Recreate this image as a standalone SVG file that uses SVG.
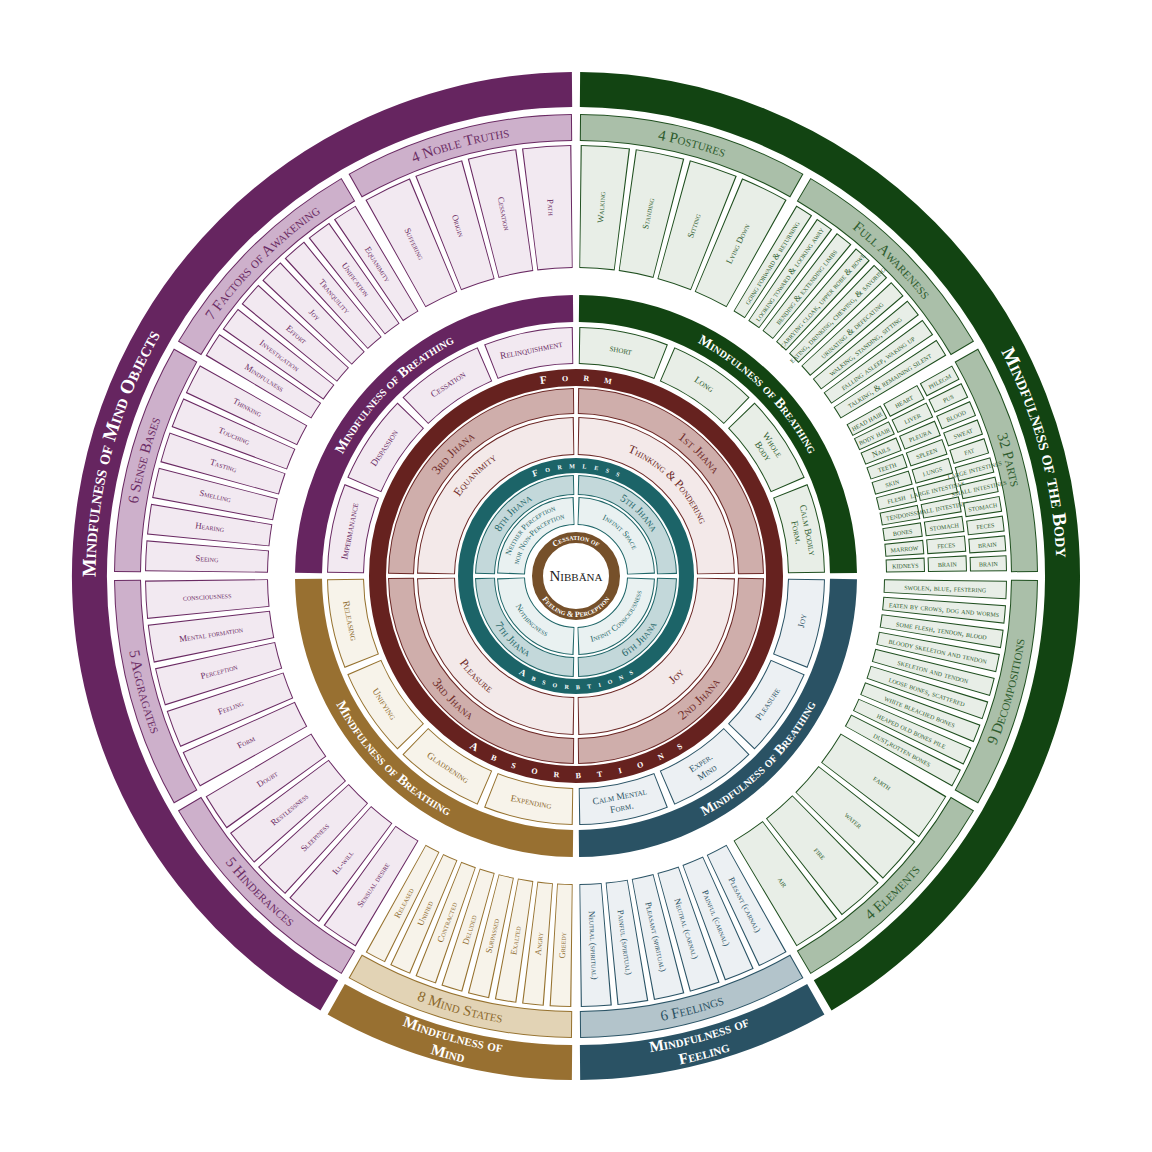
<svg xmlns="http://www.w3.org/2000/svg" width="1152" height="1152" viewBox="0 0 1152 1152">
<defs>
<style>
text{font-family:"Liberation Serif","DejaVu Serif",serif;font-variant:small-caps;text-anchor:middle}
.pD{stroke:#662560}.pB{stroke:#6a2a63}.pF{stroke:#f2e9f1}.pC{stroke:#cdb0cb}.pT{fill:#6b2c64}
.gD{stroke:#124412}.gB{stroke:#1f4f1f}.gF{stroke:#e8eee7}.gC{stroke:#aabfa9}.gT{fill:#2f5d2f}
.tD{stroke:#2a5264}.tB{stroke:#2b5466}.tF{stroke:#ecf0f3}.tC{stroke:#b3c4cb}.tT{fill:#2b5264}
.bD{stroke:#987031}.bB{stroke:#96722f}.bF{stroke:#f7f3ea}.bC{stroke:#e2d3b5}.bT{fill:#8d6a2d}
.rB{stroke:#6b2725}.rD{stroke:#cfaeab}.rL{stroke:#f3e9e9}.rT{fill:#6e2a28}
.kB{stroke:#1f6668}.kD{stroke:#c3d8da}.kL{stroke:#e9f1f1}.kT{fill:#1f6668}
.i{font-size:8.8px;dominant-baseline:central}
.s{font-size:8.9px;dominant-baseline:central}
.x{font-size:8px;dominant-baseline:central}
.bi{font-size:9.5px;dominant-baseline:central}
.ct{font-size:15px}
.ot{font-size:19.5px;font-weight:bold;fill:#fff}
.ot2{font-size:15.5px;font-weight:bold;fill:#fff}
.bt{font-size:14px;font-weight:bold;fill:#fff}
.jt{font-size:13px}
.lt{font-size:12px}
.kt{font-size:11px}
.qt{font-size:8.5px}
.ft{font-size:11px;font-weight:bold;fill:#fff;letter-spacing:15px}
.fa{font-size:11px;font-weight:bold;fill:#fff;letter-spacing:16.5px}
.fl{font-size:9px;font-weight:bold;fill:#fff;letter-spacing:7.5px}
.cc{font-size:8px;font-weight:bold;fill:#fff}
</style>
<circle id="o" r="486.5" stroke-width="35" pathLength="360" fill="none"/>
<circle id="c2" r="448.5" stroke-width="27" pathLength="360" fill="none"/>
<circle id="c2f" r="448.5" stroke-width="25" pathLength="360" fill="none"/>
<circle id="c3" r="369.5" stroke-width="123" pathLength="360" fill="none"/>
<circle id="c3f" r="369.5" stroke-width="121" pathLength="360" fill="none"/>
<circle id="p1" r="329.5" stroke-width="39" pathLength="360" fill="none"/>
<circle id="p1f" r="329.5" stroke-width="37" pathLength="360" fill="none"/>
<circle id="p2" r="371.5" stroke-width="39" pathLength="360" fill="none"/>
<circle id="p2f" r="371.5" stroke-width="37" pathLength="360" fill="none"/>
<circle id="p3" r="412.5" stroke-width="37" pathLength="360" fill="none"/>
<circle id="p3f" r="412.5" stroke-width="35" pathLength="360" fill="none"/>
<circle id="bb" r="267.5" stroke-width="27" pathLength="360" fill="none"/>
<circle id="bi" r="230.5" stroke-width="37" pathLength="360" fill="none"/>
<circle id="bif" r="230.5" stroke-width="35" pathLength="360" fill="none"/>
<circle id="j1" r="175" stroke-width="26" pathLength="360" fill="none"/>
<circle id="j1f" r="175" stroke-width="24" pathLength="360" fill="none"/>
<circle id="j2" r="140" stroke-width="38" pathLength="360" fill="none"/>
<circle id="j2f" r="140" stroke-width="36" pathLength="360" fill="none"/>
<circle id="k1" r="91" stroke-width="20" pathLength="360" fill="none"/>
<circle id="k1f" r="91" stroke-width="18" pathLength="360" fill="none"/>
<circle id="k2" r="65" stroke-width="28" pathLength="360" fill="none"/>
<circle id="k2f" r="65" stroke-width="26" pathLength="360" fill="none"/>
<path id="cwO" d="M0,480.5A480.5,480.5 0 0 1 0,-480.5A480.5,480.5 0 0 1 0,480.5"/>
<path id="ccwO1" d="M0,-482A482,482 0 0 0 0,482A482,482 0 0 0 0,-482"/>
<path id="ccwO2" d="M0,-499.5A499.5,499.5 0 0 0 0,499.5A499.5,499.5 0 0 0 0,-499.5"/>
<path id="cw2" d="M0,444A444,444 0 0 1 0,-444A444,444 0 0 1 0,444"/>
<path id="ccw2" d="M0,-453A453,453 0 0 0 0,453A453,453 0 0 0 0,-453"/>
<path id="cwB" d="M0,263A263,263 0 0 1 0,-263A263,263 0 0 1 0,263"/>
<path id="ccwB" d="M0,-272A272,272 0 0 0 0,272A272,272 0 0 0 0,-272"/>
<path id="cwF" d="M0,195A195,195 0 0 1 0,-195A195,195 0 0 1 0,195"/>
<path id="ccwF" d="M0,-202A202,202 0 0 0 0,202A202,202 0 0 0 0,-202"/>
<path id="cwJ1" d="M0,171A171,171 0 0 1 0,-171A171,171 0 0 1 0,171"/>
<path id="ccwJ1" d="M0,-179A179,179 0 0 0 0,179A179,179 0 0 0 0,-179"/>
<path id="cwJ2" d="M0,134.5A134.5,134.5 0 0 1 0,-134.5A134.5,134.5 0 0 1 0,134.5"/>
<path id="cwJ2b" d="M0,141A141,141 0 0 1 0,-141A141,141 0 0 1 0,141"/>
<path id="ccwJ2" d="M0,-145.5A145.5,145.5 0 0 0 0,145.5A145.5,145.5 0 0 0 0,-145.5"/>
<path id="cwT" d="M0,107.8A107.8,107.8 0 0 1 0,-107.8A107.8,107.8 0 0 1 0,107.8"/>
<path id="ccwT" d="M0,-113.2A113.2,113.2 0 0 0 0,113.2A113.2,113.2 0 0 0 0,-113.2"/>
<path id="cwK1" d="M0,87.7A87.7,87.7 0 0 1 0,-87.7A87.7,87.7 0 0 1 0,87.7"/>
<path id="ccwK1" d="M0,-94.3A94.3,94.3 0 0 0 0,94.3A94.3,94.3 0 0 0 0,-94.3"/>
<path id="cwK2" d="M0,62.5A62.5,62.5 0 0 1 0,-62.5A62.5,62.5 0 0 1 0,62.5"/>
<path id="ccwK2" d="M0,-67.5A67.5,67.5 0 0 0 0,67.5A67.5,67.5 0 0 0 0,-67.5"/>
<path id="cwK2a" d="M0,68.6A68.6,68.6 0 0 1 0,-68.6A68.6,68.6 0 0 1 0,68.6"/>
<path id="cwK2b" d="M0,58.6A58.6,58.6 0 0 1 0,-58.6A58.6,58.6 0 0 1 0,58.6"/>
<path id="cwC" d="M0,36A36,36 0 0 1 0,-36A36,36 0 0 1 0,36"/>
<path id="ccwC" d="M0,-41A41,41 0 0 0 0,41A41,41 0 0 0 0,-41"/>
</defs>
<rect width="1152" height="1152" fill="#fff"/>
<g transform="translate(576 576)">

<!-- OUTER RING -->
<g id="mindfulness-of-the-body"><use href="#o" class="gD" stroke-dasharray="149.06 360" transform="rotate(-89.53)"/><text class="ot"><textPath href="#cwO" startOffset="70.83%">Mindfulness of the Body</textPath></text></g>
<g id="mindfulness-of-feeling"><use href="#o" class="tD" stroke-dasharray="29.06 360" transform="rotate(60.47)"/><text class="ot2"><textPath href="#ccwO1" startOffset="54.17%">Mindfulness of</textPath></text><text class="ot2"><textPath href="#ccwO2" startOffset="54.17%">Feeling</textPath></text></g>
<g id="mindfulness-of-mind"><use href="#o" class="bD" stroke-dasharray="29.06 360" transform="rotate(90.47)"/><text class="ot2"><textPath href="#ccwO1" startOffset="45.83%">Mindfulness of</textPath></text><text class="ot2"><textPath href="#ccwO2" startOffset="45.83%">Mind</textPath></text></g>
<g id="mindfulness-of-mind-objects"><use href="#o" class="pD" stroke-dasharray="149.06 360" transform="rotate(120.47)"/><text class="ot"><textPath href="#cwO" startOffset="29.17%">Mindfulness of Mind Objects</textPath></text></g>

<!-- 4 POSTURES -->
<g id="four-postures"><use href="#c2" class="gB" stroke-dasharray="29 360" transform="rotate(-89.5)"/><use href="#c2f" class="gC" stroke-dasharray="28.74 360" transform="rotate(-89.37)"/><text class="ct gT"><textPath href="#cw2" startOffset="54.17%">4 Postures</textPath></text></g>
<g id="walking"><use href="#c3" class="gB" stroke-dasharray="6.6 360" transform="rotate(-89.38)"/><use href="#c3f" class="gF" stroke-dasharray="6.29 360" transform="rotate(-89.23)"/><text class="i gT" transform="rotate(3.92) translate(0,-369.5) rotate(-90)">Walking</text></g>
<g id="standing"><use href="#c3" class="gB" stroke-dasharray="6.6 360" transform="rotate(-82.03)"/><use href="#c3f" class="gF" stroke-dasharray="6.29 360" transform="rotate(-81.88)"/><text class="i gT" transform="rotate(11.27) translate(0,-369.5) rotate(-90)">Standing</text></g>
<g id="sitting"><use href="#c3" class="gB" stroke-dasharray="6.6 360" transform="rotate(-74.68)"/><use href="#c3f" class="gF" stroke-dasharray="6.29 360" transform="rotate(-74.53)"/><text class="i gT" transform="rotate(18.62) translate(0,-369.5) rotate(-90)">Sitting</text></g>
<g id="lying-down"><use href="#c3" class="gB" stroke-dasharray="6.6 360" transform="rotate(-67.33)"/><use href="#c3f" class="gF" stroke-dasharray="6.29 360" transform="rotate(-67.18)"/><text class="i gT" transform="rotate(25.97) translate(0,-369.5) rotate(-90)">Lying Down</text></g>

<!-- FULL AWARENESS -->
<g id="full-awareness"><use href="#c2" class="gB" stroke-dasharray="29 360" transform="rotate(-59.5)"/><use href="#c2f" class="gC" stroke-dasharray="28.74 360" transform="rotate(-59.37)"/><text class="ct gT"><textPath href="#cw2" startOffset="62.5%">Full Awareness</textPath></text></g>
<g id="fa-1"><use href="#c3" class="gB" stroke-dasharray="2.5 360" transform="rotate(-59.25)"/><use href="#c3f" class="gF" stroke-dasharray="2.19 360" transform="rotate(-59.1)"/><text class="s gT" transform="rotate(32) translate(0,-369.5) rotate(-90)">going forward &amp; returning</text></g>
<g id="fa-2"><use href="#c3" class="gB" stroke-dasharray="2.5 360" transform="rotate(-56)"/><use href="#c3f" class="gF" stroke-dasharray="2.19 360" transform="rotate(-55.85)"/><text class="s gT" transform="rotate(35.25) translate(0,-369.5) rotate(-90)">looking toward &amp; looking away</text></g>
<g id="fa-3"><use href="#c3" class="gB" stroke-dasharray="2.5 360" transform="rotate(-52.75)"/><use href="#c3f" class="gF" stroke-dasharray="2.19 360" transform="rotate(-52.6)"/><text class="s gT" transform="rotate(38.5) translate(0,-369.5) rotate(-90)">bending &amp; extending limbs</text></g>
<g id="fa-4"><use href="#c3" class="gB" stroke-dasharray="2.5 360" transform="rotate(-49.5)"/><use href="#c3f" class="gF" stroke-dasharray="2.19 360" transform="rotate(-49.35)"/><text class="s gT" transform="rotate(41.75) translate(0,-369.5) rotate(-90)">carrying cloak, upper robe &amp; bowl</text></g>
<g id="fa-5"><use href="#c3" class="gB" stroke-dasharray="2.5 360" transform="rotate(-46.25)"/><use href="#c3f" class="gF" stroke-dasharray="2.19 360" transform="rotate(-46.1)"/><text class="s gT" transform="rotate(45) translate(0,-369.5) rotate(-90)">eating, drinking, chewing, &amp; savoring</text></g>
<g id="fa-6"><use href="#c3" class="gB" stroke-dasharray="2.5 360" transform="rotate(-43)"/><use href="#c3f" class="gF" stroke-dasharray="2.19 360" transform="rotate(-42.85)"/><text class="s gT" transform="rotate(48.25) translate(0,-369.5) rotate(-90)">urinating &amp; defecating</text></g>
<g id="fa-7"><use href="#c3" class="gB" stroke-dasharray="2.5 360" transform="rotate(-39.75)"/><use href="#c3f" class="gF" stroke-dasharray="2.19 360" transform="rotate(-39.6)"/><text class="s gT" transform="rotate(51.5) translate(0,-369.5) rotate(-90)">walking, standing, sitting</text></g>
<g id="fa-8"><use href="#c3" class="gB" stroke-dasharray="2.5 360" transform="rotate(-36.5)"/><use href="#c3f" class="gF" stroke-dasharray="2.19 360" transform="rotate(-36.35)"/><text class="s gT" transform="rotate(54.75) translate(0,-369.5) rotate(-90)">falling asleep, waking up</text></g>
<g id="fa-9"><use href="#c3" class="gB" stroke-dasharray="2.5 360" transform="rotate(-33.25)"/><use href="#c3f" class="gF" stroke-dasharray="2.19 360" transform="rotate(-33.1)"/><text class="s gT" transform="rotate(58) translate(0,-369.5) rotate(-90)">talking, &amp; remaining silent</text></g>

<!-- 32 PARTS -->
<g id="thirty-two-parts"><use href="#c2" class="gB" stroke-dasharray="29 360" transform="rotate(-29.5)"/><use href="#c2f" class="gC" stroke-dasharray="28.74 360" transform="rotate(-29.37)"/><text class="ct gT"><textPath href="#cw2" startOffset="70.83%">32 Parts</textPath></text></g>
<g id="head-hair"><use href="#p1" class="gB" stroke-dasharray="2.41 360" transform="rotate(-29.25)"/><use href="#p1f" class="gF" stroke-dasharray="2.07 360" transform="rotate(-29.08)"/><text class="x gT" transform="rotate(61.96) translate(0,-329.5) rotate(-90)">head hair</text></g>
<g id="body-hair"><use href="#p1" class="gB" stroke-dasharray="2.41 360" transform="rotate(-26.34)"/><use href="#p1f" class="gF" stroke-dasharray="2.07 360" transform="rotate(-26.17)"/><text class="x gT" transform="rotate(64.87) translate(0,-329.5) rotate(-90)">body hair</text></g>
<g id="nails"><use href="#p1" class="gB" stroke-dasharray="2.41 360" transform="rotate(-23.42)"/><use href="#p1f" class="gF" stroke-dasharray="2.07 360" transform="rotate(-23.25)"/><text class="x gT" transform="rotate(67.79) translate(0,-329.5) rotate(-90)">Nails</text></g>
<g id="teeth"><use href="#p1" class="gB" stroke-dasharray="2.41 360" transform="rotate(-20.51)"/><use href="#p1f" class="gF" stroke-dasharray="2.07 360" transform="rotate(-20.34)"/><text class="x gT" transform="rotate(70.7) translate(0,-329.5) rotate(-90)">teeth</text></g>
<g id="skin"><use href="#p1" class="gB" stroke-dasharray="2.41 360" transform="rotate(-17.6)"/><use href="#p1f" class="gF" stroke-dasharray="2.07 360" transform="rotate(-17.43)"/><text class="x gT" transform="rotate(73.61) translate(0,-329.5) rotate(-90)">skin</text></g>
<g id="flesh"><use href="#p1" class="gB" stroke-dasharray="2.41 360" transform="rotate(-14.68)"/><use href="#p1f" class="gF" stroke-dasharray="2.07 360" transform="rotate(-14.51)"/><text class="x gT" transform="rotate(76.53) translate(0,-329.5) rotate(-90)">flesh</text></g>
<g id="tendons"><use href="#p1" class="gB" stroke-dasharray="2.41 360" transform="rotate(-11.77)"/><use href="#p1f" class="gF" stroke-dasharray="2.07 360" transform="rotate(-11.6)"/><text class="x gT" transform="rotate(79.44) translate(0,-329.5) rotate(-90)">tendons</text></g>
<g id="bones"><use href="#p1" class="gB" stroke-dasharray="2.41 360" transform="rotate(-8.86)"/><use href="#p1f" class="gF" stroke-dasharray="2.07 360" transform="rotate(-8.69)"/><text class="x gT" transform="rotate(82.35) translate(0,-329.5) rotate(-90)">bones</text></g>
<g id="marrow"><use href="#p1" class="gB" stroke-dasharray="2.41 360" transform="rotate(-5.95)"/><use href="#p1f" class="gF" stroke-dasharray="2.07 360" transform="rotate(-5.78)"/><text class="x gT" transform="rotate(85.26) translate(0,-329.5) rotate(-90)">marrow</text></g>
<g id="kidneys"><use href="#p1" class="gB" stroke-dasharray="2.41 360" transform="rotate(-3.03)"/><use href="#p1f" class="gF" stroke-dasharray="2.07 360" transform="rotate(-2.86)"/><text class="x gT" transform="rotate(88.18) translate(0,-329.5) rotate(-90)">kidneys</text></g>
<g id="heart"><use href="#p2" class="gB" stroke-dasharray="2.41 360" transform="rotate(-29.25)"/><use href="#p2f" class="gF" stroke-dasharray="2.1 360" transform="rotate(-29.1)"/><text class="x gT" transform="rotate(61.96) translate(0,-371.5) rotate(-90)">heart</text></g>
<g id="liver"><use href="#p2" class="gB" stroke-dasharray="2.41 360" transform="rotate(-26.34)"/><use href="#p2f" class="gF" stroke-dasharray="2.1 360" transform="rotate(-26.19)"/><text class="x gT" transform="rotate(64.87) translate(0,-371.5) rotate(-90)">liver</text></g>
<g id="pleura"><use href="#p2" class="gB" stroke-dasharray="2.41 360" transform="rotate(-23.42)"/><use href="#p2f" class="gF" stroke-dasharray="2.1 360" transform="rotate(-23.27)"/><text class="x gT" transform="rotate(67.79) translate(0,-371.5) rotate(-90)">pleura</text></g>
<g id="spleen"><use href="#p2" class="gB" stroke-dasharray="2.41 360" transform="rotate(-20.51)"/><use href="#p2f" class="gF" stroke-dasharray="2.1 360" transform="rotate(-20.36)"/><text class="x gT" transform="rotate(70.7) translate(0,-371.5) rotate(-90)">spleen</text></g>
<g id="lungs"><use href="#p2" class="gB" stroke-dasharray="2.41 360" transform="rotate(-17.6)"/><use href="#p2f" class="gF" stroke-dasharray="2.1 360" transform="rotate(-17.45)"/><text class="x gT" transform="rotate(73.61) translate(0,-371.5) rotate(-90)">lungs</text></g>
<g id="large-intestines-1"><use href="#p2" class="gB" stroke-dasharray="2.41 360" transform="rotate(-14.68)"/><use href="#p2f" class="gF" stroke-dasharray="2.1 360" transform="rotate(-14.53)"/><text class="x gT" transform="rotate(76.53) translate(0,-371.5) rotate(-90)">large intestines</text></g>
<g id="small-intestines-1"><use href="#p2" class="gB" stroke-dasharray="2.41 360" transform="rotate(-11.77)"/><use href="#p2f" class="gF" stroke-dasharray="2.1 360" transform="rotate(-11.62)"/><text class="x gT" transform="rotate(79.44) translate(0,-371.5) rotate(-90)">small intestines</text></g>
<g id="stomach-1"><use href="#p2" class="gB" stroke-dasharray="2.41 360" transform="rotate(-8.86)"/><use href="#p2f" class="gF" stroke-dasharray="2.1 360" transform="rotate(-8.71)"/><text class="x gT" transform="rotate(82.35) translate(0,-371.5) rotate(-90)">stomach</text></g>
<g id="feces-1"><use href="#p2" class="gB" stroke-dasharray="2.41 360" transform="rotate(-5.95)"/><use href="#p2f" class="gF" stroke-dasharray="2.1 360" transform="rotate(-5.8)"/><text class="x gT" transform="rotate(85.26) translate(0,-371.5) rotate(-90)">feces</text></g>
<g id="brain-1"><use href="#p2" class="gB" stroke-dasharray="2.41 360" transform="rotate(-3.03)"/><use href="#p2f" class="gF" stroke-dasharray="2.1 360" transform="rotate(-2.88)"/><text class="x gT" transform="rotate(88.18) translate(0,-371.5) rotate(-90)">brain</text></g>
<g id="phlegm"><use href="#p3" class="gB" stroke-dasharray="2.15 360" transform="rotate(-29.25)"/><use href="#p3f" class="gF" stroke-dasharray="1.87 360" transform="rotate(-29.11)"/><text class="x gT" transform="rotate(61.82) translate(0,-412.5) rotate(-90)">phlegm</text></g>
<g id="pus"><use href="#p3" class="gB" stroke-dasharray="2.15 360" transform="rotate(-26.6)"/><use href="#p3f" class="gF" stroke-dasharray="1.87 360" transform="rotate(-26.46)"/><text class="x gT" transform="rotate(64.47) translate(0,-412.5) rotate(-90)">pus</text></g>
<g id="blood"><use href="#p3" class="gB" stroke-dasharray="2.15 360" transform="rotate(-23.95)"/><use href="#p3f" class="gF" stroke-dasharray="1.87 360" transform="rotate(-23.81)"/><text class="x gT" transform="rotate(67.12) translate(0,-412.5) rotate(-90)">blood</text></g>
<g id="sweat"><use href="#p3" class="gB" stroke-dasharray="2.15 360" transform="rotate(-21.31)"/><use href="#p3f" class="gF" stroke-dasharray="1.87 360" transform="rotate(-21.17)"/><text class="x gT" transform="rotate(69.76) translate(0,-412.5) rotate(-90)">sweat</text></g>
<g id="fat"><use href="#p3" class="gB" stroke-dasharray="2.15 360" transform="rotate(-18.66)"/><use href="#p3f" class="gF" stroke-dasharray="1.87 360" transform="rotate(-18.52)"/><text class="x gT" transform="rotate(72.41) translate(0,-412.5) rotate(-90)">fat</text></g>
<g id="large-intestines-2"><use href="#p3" class="gB" stroke-dasharray="2.15 360" transform="rotate(-16.01)"/><use href="#p3f" class="gF" stroke-dasharray="1.87 360" transform="rotate(-15.87)"/><text class="x gT" transform="rotate(75.06) translate(0,-412.5) rotate(-90)">large intestines</text></g>
<g id="small-intestines-2"><use href="#p3" class="gB" stroke-dasharray="2.15 360" transform="rotate(-13.36)"/><use href="#p3f" class="gF" stroke-dasharray="1.87 360" transform="rotate(-13.22)"/><text class="x gT" transform="rotate(77.71) translate(0,-412.5) rotate(-90)">small intestines</text></g>
<g id="stomach-2"><use href="#p3" class="gB" stroke-dasharray="2.15 360" transform="rotate(-10.71)"/><use href="#p3f" class="gF" stroke-dasharray="1.87 360" transform="rotate(-10.57)"/><text class="x gT" transform="rotate(80.36) translate(0,-412.5) rotate(-90)">stomach</text></g>
<g id="feces-2"><use href="#p3" class="gB" stroke-dasharray="2.15 360" transform="rotate(-8.07)"/><use href="#p3f" class="gF" stroke-dasharray="1.87 360" transform="rotate(-7.93)"/><text class="x gT" transform="rotate(83) translate(0,-412.5) rotate(-90)">feces</text></g>
<g id="brain-2"><use href="#p3" class="gB" stroke-dasharray="2.15 360" transform="rotate(-5.42)"/><use href="#p3f" class="gF" stroke-dasharray="1.87 360" transform="rotate(-5.28)"/><text class="x gT" transform="rotate(85.65) translate(0,-412.5) rotate(-90)">brain</text></g>
<g id="brain-3"><use href="#p3" class="gB" stroke-dasharray="2.15 360" transform="rotate(-2.77)"/><use href="#p3f" class="gF" stroke-dasharray="1.87 360" transform="rotate(-2.63)"/><text class="x gT" transform="rotate(88.3) translate(0,-412.5) rotate(-90)">brain</text></g>

<!-- 9 DECOMPOSITIONS -->
<g id="nine-decompositions"><use href="#c2" class="gB" stroke-dasharray="29 360" transform="rotate(0.5)"/><use href="#c2f" class="gC" stroke-dasharray="28.74 360" transform="rotate(0.63)"/><text class="ct gT"><textPath href="#ccw2" startOffset="70.83%">9 Decompositions</textPath></text></g>
<g id="dc-1"><use href="#c3" class="gB" stroke-dasharray="2.51 360" transform="rotate(0.62)"/><use href="#c3f" class="gF" stroke-dasharray="2.2 360" transform="rotate(0.78)"/><text class="s gT" transform="rotate(91.88) translate(0,-369.5) rotate(-90)">swolen, blue, festering</text></g>
<g id="dc-2"><use href="#c3" class="gB" stroke-dasharray="2.51 360" transform="rotate(3.88)"/><use href="#c3f" class="gF" stroke-dasharray="2.2 360" transform="rotate(4.04)"/><text class="s gT" transform="rotate(95.14) translate(0,-369.5) rotate(-90)">eaten by crows, dog and worms</text></g>
<g id="dc-3"><use href="#c3" class="gB" stroke-dasharray="2.51 360" transform="rotate(7.15)"/><use href="#c3f" class="gF" stroke-dasharray="2.2 360" transform="rotate(7.31)"/><text class="s gT" transform="rotate(98.41) translate(0,-369.5) rotate(-90)">some flesh, tendon, blood</text></g>
<g id="dc-4"><use href="#c3" class="gB" stroke-dasharray="2.51 360" transform="rotate(10.41)"/><use href="#c3f" class="gF" stroke-dasharray="2.2 360" transform="rotate(10.57)"/><text class="s gT" transform="rotate(101.67) translate(0,-369.5) rotate(-90)">bloody skeleton and tendon</text></g>
<g id="dc-5"><use href="#c3" class="gB" stroke-dasharray="2.51 360" transform="rotate(13.68)"/><use href="#c3f" class="gF" stroke-dasharray="2.2 360" transform="rotate(13.84)"/><text class="s gT" transform="rotate(104.94) translate(0,-369.5) rotate(-90)">skeleton and tendon</text></g>
<g id="dc-6"><use href="#c3" class="gB" stroke-dasharray="2.51 360" transform="rotate(16.94)"/><use href="#c3f" class="gF" stroke-dasharray="2.2 360" transform="rotate(17.1)"/><text class="s gT" transform="rotate(108.2) translate(0,-369.5) rotate(-90)">loose bones, scattered</text></g>
<g id="dc-7"><use href="#c3" class="gB" stroke-dasharray="2.51 360" transform="rotate(20.2)"/><use href="#c3f" class="gF" stroke-dasharray="2.2 360" transform="rotate(20.36)"/><text class="s gT" transform="rotate(111.46) translate(0,-369.5) rotate(-90)">white bleached bones</text></g>
<g id="dc-8"><use href="#c3" class="gB" stroke-dasharray="2.51 360" transform="rotate(23.47)"/><use href="#c3f" class="gF" stroke-dasharray="2.2 360" transform="rotate(23.63)"/><text class="s gT" transform="rotate(114.73) translate(0,-369.5) rotate(-90)">heaped old bones pile</text></g>
<g id="dc-9"><use href="#c3" class="gB" stroke-dasharray="2.51 360" transform="rotate(26.73)"/><use href="#c3f" class="gF" stroke-dasharray="2.2 360" transform="rotate(26.89)"/><text class="s gT" transform="rotate(117.99) translate(0,-369.5) rotate(-90)">dust,rotten bones</text></g>

<!-- 4 ELEMENTS -->
<g id="four-elements"><use href="#c2" class="gB" stroke-dasharray="29 360" transform="rotate(30.5)"/><use href="#c2f" class="gC" stroke-dasharray="28.74 360" transform="rotate(30.63)"/><text class="ct gT"><textPath href="#ccw2" startOffset="62.5%">4 Elements</textPath></text></g>
<g id="earth"><use href="#c3" class="gB" stroke-dasharray="6.56 360" transform="rotate(30.75)"/><use href="#c3f" class="gF" stroke-dasharray="6.25 360" transform="rotate(30.91)"/><text class="i gT" transform="rotate(124.03) translate(0,-369.5) rotate(-90)">earth</text></g>
<g id="water"><use href="#c3" class="gB" stroke-dasharray="6.56 360" transform="rotate(38.06)"/><use href="#c3f" class="gF" stroke-dasharray="6.25 360" transform="rotate(38.22)"/><text class="i gT" transform="rotate(131.34) translate(0,-369.5) rotate(-90)">water</text></g>
<g id="fire"><use href="#c3" class="gB" stroke-dasharray="6.56 360" transform="rotate(45.38)"/><use href="#c3f" class="gF" stroke-dasharray="6.25 360" transform="rotate(45.54)"/><text class="i gT" transform="rotate(138.66) translate(0,-369.5) rotate(-90)">fire</text></g>
<g id="air"><use href="#c3" class="gB" stroke-dasharray="6.56 360" transform="rotate(52.69)"/><use href="#c3f" class="gF" stroke-dasharray="6.25 360" transform="rotate(52.85)"/><text class="i gT" transform="rotate(145.97) translate(0,-369.5) rotate(-90)">air</text></g>

<!-- 6 FEELINGS -->
<g id="six-feelings"><use href="#c2" class="tB" stroke-dasharray="29 360" transform="rotate(60.5)"/><use href="#c2f" class="tC" stroke-dasharray="28.74 360" transform="rotate(60.63)"/><text class="ct tT"><textPath href="#ccw2" startOffset="54.17%">6 Feelings</textPath></text></g>
<g id="plesant-carnal"><use href="#c3" class="tB" stroke-dasharray="4.15 360" transform="rotate(60.75)"/><use href="#c3f" class="tF" stroke-dasharray="3.84 360" transform="rotate(60.91)"/><text class="i tT" transform="rotate(152.82) translate(0,-369.5) rotate(-90)">Plesant (carnal)</text></g>
<g id="painful-carnal"><use href="#c3" class="tB" stroke-dasharray="4.15 360" transform="rotate(65.65)"/><use href="#c3f" class="tF" stroke-dasharray="3.84 360" transform="rotate(65.81)"/><text class="i tT" transform="rotate(157.72) translate(0,-369.5) rotate(-90)">Painful (carnal)</text></g>
<g id="neutral-carnal"><use href="#c3" class="tB" stroke-dasharray="4.15 360" transform="rotate(70.54)"/><use href="#c3f" class="tF" stroke-dasharray="3.84 360" transform="rotate(70.7)"/><text class="i tT" transform="rotate(162.61) translate(0,-369.5) rotate(-90)">Neutral (carnal)</text></g>
<g id="pleasant-spiritual"><use href="#c3" class="tB" stroke-dasharray="4.15 360" transform="rotate(75.44)"/><use href="#c3f" class="tF" stroke-dasharray="3.84 360" transform="rotate(75.6)"/><text class="i tT" transform="rotate(167.51) translate(0,-369.5) rotate(-90)">Pleasant (spiritual)</text></g>
<g id="painful-spiritual"><use href="#c3" class="tB" stroke-dasharray="4.15 360" transform="rotate(80.34)"/><use href="#c3f" class="tF" stroke-dasharray="3.84 360" transform="rotate(80.5)"/><text class="i tT" transform="rotate(172.41) translate(0,-369.5) rotate(-90)">Painful (spiritual)</text></g>
<g id="neutral-spiritual"><use href="#c3" class="tB" stroke-dasharray="4.15 360" transform="rotate(85.23)"/><use href="#c3f" class="tF" stroke-dasharray="3.84 360" transform="rotate(85.39)"/><text class="i tT" transform="rotate(177.3) translate(0,-369.5) rotate(-90)">Neutral (spiritual)</text></g>

<!-- 8 MIND STATES -->
<g id="eight-mind-states"><use href="#c2" class="bB" stroke-dasharray="29 360" transform="rotate(90.5)"/><use href="#c2f" class="bC" stroke-dasharray="28.74 360" transform="rotate(90.63)"/><text class="ct bT"><textPath href="#ccw2" startOffset="45.83%">8 Mind States</textPath></text></g>
<g id="greedy"><use href="#c3" class="bB" stroke-dasharray="2.92 360" transform="rotate(90.62)"/><use href="#c3f" class="bF" stroke-dasharray="2.61 360" transform="rotate(90.78)"/><text class="i bT" transform="rotate(182.08) translate(0,-369.5) rotate(90)">Greedy</text></g>
<g id="angry"><use href="#c3" class="bB" stroke-dasharray="2.92 360" transform="rotate(94.29)"/><use href="#c3f" class="bF" stroke-dasharray="2.61 360" transform="rotate(94.45)"/><text class="i bT" transform="rotate(185.75) translate(0,-369.5) rotate(90)">Angry</text></g>
<g id="exalted"><use href="#c3" class="bB" stroke-dasharray="2.92 360" transform="rotate(97.96)"/><use href="#c3f" class="bF" stroke-dasharray="2.61 360" transform="rotate(98.12)"/><text class="i bT" transform="rotate(189.42) translate(0,-369.5) rotate(90)">Exalted</text></g>
<g id="surpassed"><use href="#c3" class="bB" stroke-dasharray="2.92 360" transform="rotate(101.63)"/><use href="#c3f" class="bF" stroke-dasharray="2.61 360" transform="rotate(101.79)"/><text class="i bT" transform="rotate(193.09) translate(0,-369.5) rotate(90)">Surpassed</text></g>
<g id="deluded"><use href="#c3" class="bB" stroke-dasharray="2.92 360" transform="rotate(105.3)"/><use href="#c3f" class="bF" stroke-dasharray="2.61 360" transform="rotate(105.46)"/><text class="i bT" transform="rotate(196.76) translate(0,-369.5) rotate(90)">Deluded</text></g>
<g id="contracted"><use href="#c3" class="bB" stroke-dasharray="2.92 360" transform="rotate(108.97)"/><use href="#c3f" class="bF" stroke-dasharray="2.61 360" transform="rotate(109.13)"/><text class="i bT" transform="rotate(200.43) translate(0,-369.5) rotate(90)">Contracted</text></g>
<g id="unified"><use href="#c3" class="bB" stroke-dasharray="2.92 360" transform="rotate(112.64)"/><use href="#c3f" class="bF" stroke-dasharray="2.61 360" transform="rotate(112.8)"/><text class="i bT" transform="rotate(204.1) translate(0,-369.5) rotate(90)">Unified</text></g>
<g id="released"><use href="#c3" class="bB" stroke-dasharray="2.92 360" transform="rotate(116.31)"/><use href="#c3f" class="bF" stroke-dasharray="2.61 360" transform="rotate(116.47)"/><text class="i bT" transform="rotate(207.77) translate(0,-369.5) rotate(90)">Released</text></g>

<!-- 5 HINDERANCES -->
<g id="five-hinderances"><use href="#c2" class="pB" stroke-dasharray="29 360" transform="rotate(120.5)"/><use href="#c2f" class="pC" stroke-dasharray="28.74 360" transform="rotate(120.63)"/><text class="ct pT"><textPath href="#ccw2" startOffset="37.5%">5 Hinderances</textPath></text></g>
<g id="sensual-desire"><use href="#c3" class="pB" stroke-dasharray="5.1 360" transform="rotate(120.75)"/><use href="#c3f" class="pF" stroke-dasharray="4.79 360" transform="rotate(120.91)"/><text class="i pT" transform="rotate(213.3) translate(0,-369.5) rotate(90)">Sensual desire</text></g>
<g id="ill-will"><use href="#c3" class="pB" stroke-dasharray="5.1 360" transform="rotate(126.6)"/><use href="#c3f" class="pF" stroke-dasharray="4.79 360" transform="rotate(126.76)"/><text class="i pT" transform="rotate(219.15) translate(0,-369.5) rotate(90)">Ill-will</text></g>
<g id="sleepiness"><use href="#c3" class="pB" stroke-dasharray="5.1 360" transform="rotate(132.45)"/><use href="#c3f" class="pF" stroke-dasharray="4.79 360" transform="rotate(132.61)"/><text class="i pT" transform="rotate(225) translate(0,-369.5) rotate(90)">Sleepiness</text></g>
<g id="restlessness"><use href="#c3" class="pB" stroke-dasharray="5.1 360" transform="rotate(138.3)"/><use href="#c3f" class="pF" stroke-dasharray="4.79 360" transform="rotate(138.46)"/><text class="i pT" transform="rotate(230.85) translate(0,-369.5) rotate(90)">Restlessness</text></g>
<g id="doubt"><use href="#c3" class="pB" stroke-dasharray="5.1 360" transform="rotate(144.15)"/><use href="#c3f" class="pF" stroke-dasharray="4.79 360" transform="rotate(144.31)"/><text class="i pT" transform="rotate(236.7) translate(0,-369.5) rotate(90)">Doubt</text></g>

<!-- 5 AGGRAGATES -->
<g id="five-aggragates"><use href="#c2" class="pB" stroke-dasharray="29 360" transform="rotate(150.5)"/><use href="#c2f" class="pC" stroke-dasharray="28.74 360" transform="rotate(150.63)"/><text class="ct pT"><textPath href="#ccw2" startOffset="29.17%">5 Aggragates</textPath></text></g>
<g id="form"><use href="#c3" class="pB" stroke-dasharray="5.13 360" transform="rotate(150.75)"/><use href="#c3f" class="pF" stroke-dasharray="4.82 360" transform="rotate(150.91)"/><text class="i pT" transform="rotate(243.32) translate(0,-369.5) rotate(90)">Form</text></g>
<g id="feeling"><use href="#c3" class="pB" stroke-dasharray="5.13 360" transform="rotate(156.63)"/><use href="#c3f" class="pF" stroke-dasharray="4.82 360" transform="rotate(156.79)"/><text class="i pT" transform="rotate(249.2) translate(0,-369.5) rotate(90)">Feeling</text></g>
<g id="perception"><use href="#c3" class="pB" stroke-dasharray="5.13 360" transform="rotate(162.51)"/><use href="#c3f" class="pF" stroke-dasharray="4.82 360" transform="rotate(162.67)"/><text class="i pT" transform="rotate(255.08) translate(0,-369.5) rotate(90)">Perception</text></g>
<g id="mental-formation"><use href="#c3" class="pB" stroke-dasharray="5.13 360" transform="rotate(168.39)"/><use href="#c3f" class="pF" stroke-dasharray="4.82 360" transform="rotate(168.55)"/><text class="i pT" transform="rotate(260.96) translate(0,-369.5) rotate(90)">Mental formation</text></g>
<g id="consciousness"><use href="#c3" class="pB" stroke-dasharray="5.13 360" transform="rotate(174.27)"/><use href="#c3f" class="pF" stroke-dasharray="4.82 360" transform="rotate(174.43)"/><text class="i pT" transform="rotate(266.84) translate(0,-369.5) rotate(90)">consciousness</text></g>

<!-- 6 SENSE BASES -->
<g id="six-sense-bases"><use href="#c2" class="pB" stroke-dasharray="29 360" transform="rotate(180.5)"/><use href="#c2f" class="pC" stroke-dasharray="28.74 360" transform="rotate(180.63)"/><text class="ct pT"><textPath href="#cw2" startOffset="29.17%">6 Sense Bases</textPath></text></g>
<g id="seeing"><use href="#c3" class="pB" stroke-dasharray="4.15 360" transform="rotate(180.62)"/><use href="#c3f" class="pF" stroke-dasharray="3.84 360" transform="rotate(180.78)"/><text class="i pT" transform="rotate(272.7) translate(0,-369.5) rotate(90)">Seeing</text></g>
<g id="hearing"><use href="#c3" class="pB" stroke-dasharray="4.15 360" transform="rotate(185.52)"/><use href="#c3f" class="pF" stroke-dasharray="3.84 360" transform="rotate(185.68)"/><text class="i pT" transform="rotate(277.6) translate(0,-369.5) rotate(90)">Hearing</text></g>
<g id="smelling"><use href="#c3" class="pB" stroke-dasharray="4.15 360" transform="rotate(190.42)"/><use href="#c3f" class="pF" stroke-dasharray="3.84 360" transform="rotate(190.58)"/><text class="i pT" transform="rotate(282.5) translate(0,-369.5) rotate(90)">Smelling</text></g>
<g id="tasting"><use href="#c3" class="pB" stroke-dasharray="4.15 360" transform="rotate(195.32)"/><use href="#c3f" class="pF" stroke-dasharray="3.84 360" transform="rotate(195.48)"/><text class="i pT" transform="rotate(287.4) translate(0,-369.5) rotate(90)">Tasting</text></g>
<g id="touching"><use href="#c3" class="pB" stroke-dasharray="4.15 360" transform="rotate(200.22)"/><use href="#c3f" class="pF" stroke-dasharray="3.84 360" transform="rotate(200.38)"/><text class="i pT" transform="rotate(292.3) translate(0,-369.5) rotate(90)">Touching</text></g>
<g id="thinking"><use href="#c3" class="pB" stroke-dasharray="4.15 360" transform="rotate(205.12)"/><use href="#c3f" class="pF" stroke-dasharray="3.84 360" transform="rotate(205.28)"/><text class="i pT" transform="rotate(297.2) translate(0,-369.5) rotate(90)">Thinking</text></g>

<!-- 7 FACTORS OF AWAKENING -->
<g id="seven-factors"><use href="#c2" class="pB" stroke-dasharray="29 360" transform="rotate(210.5)"/><use href="#c2f" class="pC" stroke-dasharray="28.74 360" transform="rotate(210.63)"/><text class="ct pT"><textPath href="#cw2" startOffset="37.5%">7 Factors of Awakening</textPath></text></g>
<g id="mindfulness"><use href="#c3" class="pB" stroke-dasharray="3.43 360" transform="rotate(210.75)"/><use href="#c3f" class="pF" stroke-dasharray="3.12 360" transform="rotate(210.91)"/><text class="i pT" transform="rotate(302.47) translate(0,-369.5) rotate(90)">Mindfulness</text></g>
<g id="investigation"><use href="#c3" class="pB" stroke-dasharray="3.43 360" transform="rotate(214.93)"/><use href="#c3f" class="pF" stroke-dasharray="3.12 360" transform="rotate(215.09)"/><text class="i pT" transform="rotate(306.65) translate(0,-369.5) rotate(90)">Investigation</text></g>
<g id="effort"><use href="#c3" class="pB" stroke-dasharray="3.43 360" transform="rotate(219.11)"/><use href="#c3f" class="pF" stroke-dasharray="3.12 360" transform="rotate(219.27)"/><text class="i pT" transform="rotate(310.83) translate(0,-369.5) rotate(90)">Effort</text></g>
<g id="joy-factor"><use href="#c3" class="pB" stroke-dasharray="3.43 360" transform="rotate(223.29)"/><use href="#c3f" class="pF" stroke-dasharray="3.12 360" transform="rotate(223.45)"/><text class="i pT" transform="rotate(315.01) translate(0,-369.5) rotate(90)">Joy</text></g>
<g id="tranquility"><use href="#c3" class="pB" stroke-dasharray="3.43 360" transform="rotate(227.47)"/><use href="#c3f" class="pF" stroke-dasharray="3.12 360" transform="rotate(227.63)"/><text class="i pT" transform="rotate(319.19) translate(0,-369.5) rotate(90)">Tranquility</text></g>
<g id="unification"><use href="#c3" class="pB" stroke-dasharray="3.43 360" transform="rotate(231.65)"/><use href="#c3f" class="pF" stroke-dasharray="3.12 360" transform="rotate(231.81)"/><text class="i pT" transform="rotate(323.37) translate(0,-369.5) rotate(90)">Unification</text></g>
<g id="equanimity-factor"><use href="#c3" class="pB" stroke-dasharray="3.43 360" transform="rotate(235.83)"/><use href="#c3f" class="pF" stroke-dasharray="3.12 360" transform="rotate(235.99)"/><text class="i pT" transform="rotate(327.55) translate(0,-369.5) rotate(90)">Equanimity</text></g>

<!-- 4 NOBLE TRUTHS -->
<g id="four-noble-truths"><use href="#c2" class="pB" stroke-dasharray="29 360" transform="rotate(240.5)"/><use href="#c2f" class="pC" stroke-dasharray="28.74 360" transform="rotate(240.63)"/><text class="ct pT"><textPath href="#cw2" startOffset="45.83%">4 Noble Truths</textPath></text></g>
<g id="suffering"><use href="#c3" class="pB" stroke-dasharray="6.6 360" transform="rotate(240.75)"/><use href="#c3f" class="pF" stroke-dasharray="6.29 360" transform="rotate(240.9)"/><text class="i pT" transform="rotate(334.05) translate(0,-369.5) rotate(90)">Suffering</text></g>
<g id="origin"><use href="#c3" class="pB" stroke-dasharray="6.6 360" transform="rotate(248.1)"/><use href="#c3f" class="pF" stroke-dasharray="6.29 360" transform="rotate(248.25)"/><text class="i pT" transform="rotate(341.4) translate(0,-369.5) rotate(90)">Origin</text></g>
<g id="cessation-truth"><use href="#c3" class="pB" stroke-dasharray="6.6 360" transform="rotate(255.45)"/><use href="#c3f" class="pF" stroke-dasharray="6.29 360" transform="rotate(255.6)"/><text class="i pT" transform="rotate(348.75) translate(0,-369.5) rotate(90)">Cessation</text></g>
<g id="path"><use href="#c3" class="pB" stroke-dasharray="6.6 360" transform="rotate(262.8)"/><use href="#c3f" class="pF" stroke-dasharray="6.29 360" transform="rotate(262.95)"/><text class="i pT" transform="rotate(356.1) translate(0,-369.5) rotate(90)">Path</text></g>

<!-- BREATHING: BODY -->
<g id="breathing-body"><use href="#bb" class="gD" stroke-dasharray="88.72 360" transform="rotate(-89.36)"/><text class="bt"><textPath href="#cwB" startOffset="62.5%">Mindfulness of Breathing</textPath></text></g>
<g id="short"><use href="#bi" class="gB" stroke-dasharray="20.93 360" transform="rotate(-89.25)"/><use href="#bif" class="gF" stroke-dasharray="20.43 360" transform="rotate(-89)"/><text class="bi gT" transform="rotate(11.22) translate(0,-230.5)">short</text></g>
<g id="long"><use href="#bi" class="gB" stroke-dasharray="20.93 360" transform="rotate(-66.72)"/><use href="#bif" class="gF" stroke-dasharray="20.43 360" transform="rotate(-66.47)"/><text class="bi gT" transform="rotate(33.75) translate(0,-230.5)">Long</text></g>
<g id="whole-body"><use href="#bi" class="gB" stroke-dasharray="20.93 360" transform="rotate(-44.19)"/><use href="#bif" class="gF" stroke-dasharray="20.43 360" transform="rotate(-43.94)"/><text class="bi gT" transform="rotate(56.28) translate(0,-230.5)"><tspan x="0" dy="-0.6em">Whole</tspan><tspan x="0" dy="1.2em">Body</tspan></text></g>
<g id="calm-bodily-form"><use href="#bi" class="gB" stroke-dasharray="20.93 360" transform="rotate(-21.66)"/><use href="#bif" class="gF" stroke-dasharray="20.43 360" transform="rotate(-21.41)"/><text class="bi gT" transform="rotate(78.81) translate(0,-230.5)"><tspan x="0" dy="-0.6em">Calm Bodily</tspan><tspan x="0" dy="1.2em">Form.</tspan></text></g>

<!-- BREATHING: FEELING -->
<g id="breathing-feeling"><use href="#bb" class="tD" stroke-dasharray="88.72 360" transform="rotate(0.64)"/><text class="bt"><textPath href="#ccwB" startOffset="62.5%">Mindfulness of Breathing</textPath></text></g>
<g id="joy-breath"><use href="#bi" class="tB" stroke-dasharray="20.93 360" transform="rotate(0.75)"/><use href="#bif" class="tF" stroke-dasharray="20.43 360" transform="rotate(1)"/><text class="bi tT" transform="rotate(101.22) translate(0,-230.5) rotate(180)">Joy</text></g>
<g id="pleasure-breath"><use href="#bi" class="tB" stroke-dasharray="20.93 360" transform="rotate(23.28)"/><use href="#bif" class="tF" stroke-dasharray="20.43 360" transform="rotate(23.53)"/><text class="bi tT" transform="rotate(123.75) translate(0,-230.5) rotate(180)">Pleasure</text></g>
<g id="exper-mind"><use href="#bi" class="tB" stroke-dasharray="20.93 360" transform="rotate(45.81)"/><use href="#bif" class="tF" stroke-dasharray="20.43 360" transform="rotate(46.06)"/><text class="bi tT" transform="rotate(146.28) translate(0,-230.5) rotate(180)"><tspan x="0" dy="-0.6em">Exper.</tspan><tspan x="0" dy="1.2em">Mind</tspan></text></g>
<g id="calm-mental-form"><use href="#bi" class="tB" stroke-dasharray="20.93 360" transform="rotate(68.34)"/><use href="#bif" class="tF" stroke-dasharray="20.43 360" transform="rotate(68.59)"/><text class="bi tT" transform="rotate(168.81) translate(0,-230.5) rotate(180)"><tspan x="0" dy="-0.6em">Calm Mental</tspan><tspan x="0" dy="1.2em">Form.</tspan></text></g>

<!-- BREATHING: MIND -->
<g id="breathing-mind"><use href="#bb" class="bD" stroke-dasharray="88.72 360" transform="rotate(90.64)"/><text class="bt"><textPath href="#ccwB" startOffset="37.5%">Mindfulness of Breathing</textPath></text></g>
<g id="expending"><use href="#bi" class="bB" stroke-dasharray="20.93 360" transform="rotate(90.75)"/><use href="#bif" class="bF" stroke-dasharray="20.43 360" transform="rotate(91)"/><text class="bi bT" transform="rotate(191.22) translate(0,-230.5) rotate(180)">Expending</text></g>
<g id="gladdening"><use href="#bi" class="bB" stroke-dasharray="20.93 360" transform="rotate(113.28)"/><use href="#bif" class="bF" stroke-dasharray="20.43 360" transform="rotate(113.53)"/><text class="bi bT" transform="rotate(213.75) translate(0,-230.5) rotate(180)">Gladdening</text></g>
<g id="unifying"><use href="#bi" class="bB" stroke-dasharray="20.93 360" transform="rotate(135.81)"/><use href="#bif" class="bF" stroke-dasharray="20.43 360" transform="rotate(136.06)"/><text class="bi bT" transform="rotate(236.28) translate(0,-230.5) rotate(180)">Unifying</text></g>
<g id="releasing"><use href="#bi" class="bB" stroke-dasharray="20.93 360" transform="rotate(158.34)"/><use href="#bif" class="bF" stroke-dasharray="20.43 360" transform="rotate(158.59)"/><text class="bi bT" transform="rotate(258.81) translate(0,-230.5) rotate(180)">Releasing</text></g>

<!-- BREATHING: MIND OBJECTS -->
<g id="breathing-mind-objects"><use href="#bb" class="pD" stroke-dasharray="88.72 360" transform="rotate(180.64)"/><text class="bt"><textPath href="#cwB" startOffset="37.5%">Mindfulness of Breathing</textPath></text></g>
<g id="impermanance"><use href="#bi" class="pB" stroke-dasharray="20.93 360" transform="rotate(180.75)"/><use href="#bif" class="pF" stroke-dasharray="20.43 360" transform="rotate(181)"/><text class="bi pT" transform="rotate(281.22) translate(0,-230.5)">Impermanance</text></g>
<g id="dispassion"><use href="#bi" class="pB" stroke-dasharray="20.93 360" transform="rotate(203.28)"/><use href="#bif" class="pF" stroke-dasharray="20.43 360" transform="rotate(203.53)"/><text class="bi pT" transform="rotate(303.75) translate(0,-230.5)">Dispassion</text></g>
<g id="cessation-breath"><use href="#bi" class="pB" stroke-dasharray="20.93 360" transform="rotate(225.81)"/><use href="#bif" class="pF" stroke-dasharray="20.43 360" transform="rotate(226.06)"/><text class="bi pT" transform="rotate(326.28) translate(0,-230.5)">Cessation</text></g>
<g id="relinquishment"><use href="#bi" class="pB" stroke-dasharray="20.93 360" transform="rotate(248.34)"/><use href="#bif" class="pF" stroke-dasharray="20.43 360" transform="rotate(248.59)"/><text class="bi pT" transform="rotate(348.81) translate(0,-230.5)">Relinquishment</text></g>

<!-- FORM ABSORBTIONS -->
<g id="jhana-1"><use href="#j1" class="rB" stroke-dasharray="88.7 360" transform="rotate(-89.35)"/><use href="#j1f" class="rD" stroke-dasharray="88.05 360" transform="rotate(-89.02)"/><use href="#j2" class="rB" stroke-dasharray="88.36 360" transform="rotate(-89.18)"/><use href="#j2f" class="rL" stroke-dasharray="87.54 360" transform="rotate(-88.77)"/><text class="jt rT"><textPath href="#cwJ1" startOffset="62.5%">1st Jhana</textPath></text><text class="lt rT"><textPath href="#cwJ2" startOffset="62.5%">Thinking &amp; Pondering</textPath></text></g>
<g id="jhana-2"><use href="#j1" class="rB" stroke-dasharray="88.7 360" transform="rotate(0.65)"/><use href="#j1f" class="rD" stroke-dasharray="88.05 360" transform="rotate(0.98)"/><use href="#j2" class="rB" stroke-dasharray="88.36 360" transform="rotate(0.82)"/><use href="#j2f" class="rL" stroke-dasharray="87.54 360" transform="rotate(1.23)"/><text class="jt rT"><textPath href="#ccwJ1" startOffset="62.5%">2nd Jhana</textPath></text><text class="lt rT"><textPath href="#ccwJ2" startOffset="62.5%">Joy</textPath></text></g>
<g id="jhana-3"><use href="#j1" class="rB" stroke-dasharray="88.7 360" transform="rotate(90.65)"/><use href="#j1f" class="rD" stroke-dasharray="88.05 360" transform="rotate(90.98)"/><use href="#j2" class="rB" stroke-dasharray="88.36 360" transform="rotate(90.82)"/><use href="#j2f" class="rL" stroke-dasharray="87.54 360" transform="rotate(91.23)"/><text class="jt rT"><textPath href="#ccwJ1" startOffset="37.5%">3rd Jhana</textPath></text><text class="lt rT"><textPath href="#ccwJ2" startOffset="37.5%">Pleasure</textPath></text></g>
<g id="jhana-4"><use href="#j1" class="rB" stroke-dasharray="88.7 360" transform="rotate(180.65)"/><use href="#j1f" class="rD" stroke-dasharray="88.05 360" transform="rotate(180.98)"/><use href="#j2" class="rB" stroke-dasharray="88.36 360" transform="rotate(180.82)"/><use href="#j2f" class="rL" stroke-dasharray="87.54 360" transform="rotate(181.23)"/><text class="jt rT"><textPath href="#cwJ1" startOffset="37.5%">3rd Jhana</textPath></text><text class="lt rT"><textPath href="#cwJ2b" startOffset="37.5%">Equanimity</textPath></text></g>
<g id="form-ring"><circle r="198.5" fill="none" stroke="#66221f" stroke-width="17"/><text class="ft"><textPath href="#cwF" startOffset="50.6%">Form</textPath></text><text class="fa"><textPath href="#ccwF" startOffset="50.65%">Absorbtions</textPath></text></g>

<!-- FORMLESS ABSORBTIONS -->
<g id="jhana-5"><use href="#k1" class="kB" stroke-dasharray="87.48 360" transform="rotate(-88.74)"/><use href="#k1f" class="kD" stroke-dasharray="86.22 360" transform="rotate(-88.11)"/><use href="#k2" class="kB" stroke-dasharray="86.48 360" transform="rotate(-88.24)"/><use href="#k2f" class="kL" stroke-dasharray="84.72 360" transform="rotate(-87.36)"/><text class="kt kT"><textPath href="#cwK1" startOffset="62.5%">5th Jhana</textPath></text><text class="qt kT"><textPath href="#cwK2" startOffset="62.5%">Infinit Space</textPath></text></g>
<g id="jhana-6"><use href="#k1" class="kB" stroke-dasharray="87.48 360" transform="rotate(1.26)"/><use href="#k1f" class="kD" stroke-dasharray="86.22 360" transform="rotate(1.89)"/><use href="#k2" class="kB" stroke-dasharray="86.48 360" transform="rotate(1.76)"/><use href="#k2f" class="kL" stroke-dasharray="84.72 360" transform="rotate(2.64)"/><text class="kt kT"><textPath href="#ccwK1" startOffset="62.5%">6th Jhana</textPath></text><text class="qt kT"><textPath href="#ccwK2" startOffset="62.5%">Infinit Consciousness</textPath></text></g>
<g id="jhana-7"><use href="#k1" class="kB" stroke-dasharray="87.48 360" transform="rotate(91.26)"/><use href="#k1f" class="kD" stroke-dasharray="86.22 360" transform="rotate(91.89)"/><use href="#k2" class="kB" stroke-dasharray="86.48 360" transform="rotate(91.76)"/><use href="#k2f" class="kL" stroke-dasharray="84.72 360" transform="rotate(92.64)"/><text class="kt kT"><textPath href="#ccwK1" startOffset="37.5%">7th Jhana</textPath></text><text class="qt kT"><textPath href="#ccwK2" startOffset="37.5%">Nothingness</textPath></text></g>
<g id="jhana-8"><use href="#k1" class="kB" stroke-dasharray="87.48 360" transform="rotate(181.26)"/><use href="#k1f" class="kD" stroke-dasharray="86.22 360" transform="rotate(181.89)"/><use href="#k2" class="kB" stroke-dasharray="86.48 360" transform="rotate(181.76)"/><use href="#k2f" class="kL" stroke-dasharray="84.72 360" transform="rotate(182.64)"/><text class="kt kT"><textPath href="#cwK1" startOffset="37.5%">8th Jhana</textPath></text><text class="qt kT" style="font-size:8px"><textPath href="#cwK2a" startOffset="37.5%">Neither Perception</textPath></text><text class="qt kT" style="font-size:8px"><textPath href="#cwK2b" startOffset="37.5%">nor Non-Perception</textPath></text></g>
<g id="formless-ring"><circle r="110.5" fill="none" stroke="#1c6468" stroke-width="15"/><text class="fl"><textPath href="#cwT" startOffset="50.55%">Formless</textPath></text><text class="fl"><textPath href="#ccwT" startOffset="50.53%">Absorbtions</textPath></text></g>

<!-- CENTER -->
<g id="cessation-ring"><circle r="38.5" fill="none" stroke="#76502a" stroke-width="11"/><text class="cc"><textPath href="#cwC" startOffset="50%">Cessation of</textPath></text><text class="cc"><textPath href="#ccwC" startOffset="50%">Feeling &amp; Perception</textPath></text></g>
<g id="nibbana"><text y="0" style="font-size:15px;fill:#222;dominant-baseline:central">Nibbāna</text></g>
</g>
</svg>
